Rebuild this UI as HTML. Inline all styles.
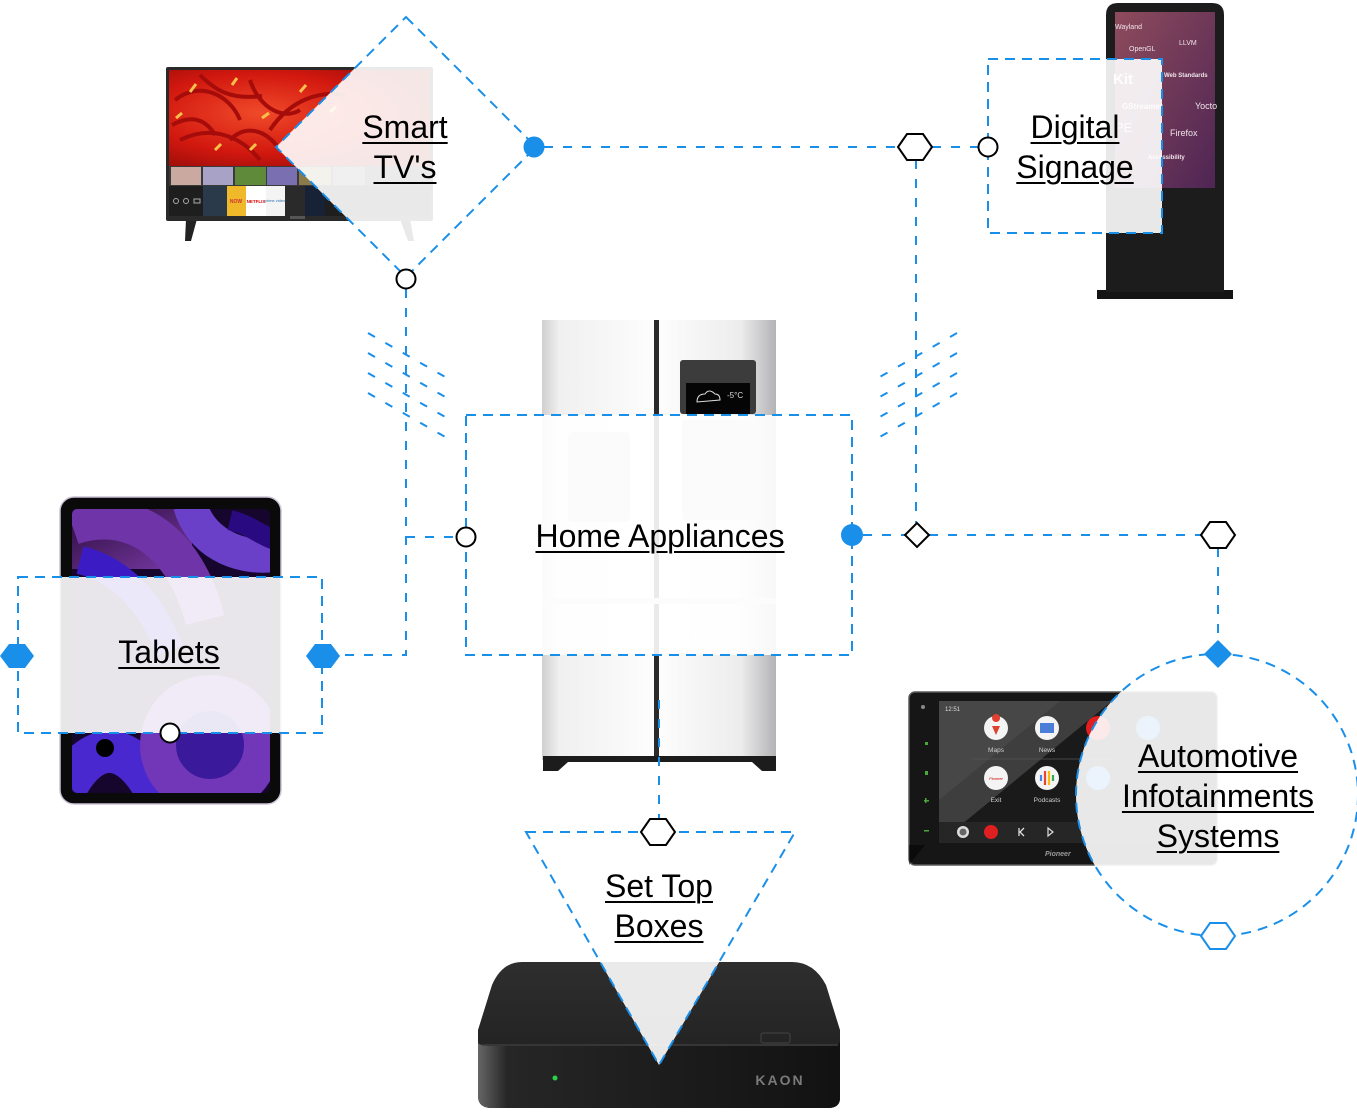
<!DOCTYPE html>
<html><head><meta charset="utf-8">
<style>
html,body{margin:0;padding:0;background:#fff;}
body{width:1357px;height:1117px;position:relative;overflow:hidden;font-family:"Liberation Sans",Arial,sans-serif;}
svg{position:absolute;left:0;top:0;}
.lbl{position:absolute;text-align:center;font-size:32px;line-height:40px;color:#000;text-decoration:underline;text-decoration-thickness:2px;text-underline-offset:4px;white-space:nowrap;}
</style></head><body>
<svg width="1357" height="1117" viewBox="0 0 1357 1117" xmlns="http://www.w3.org/2000/svg">
<defs>
<radialGradient id="tvRed" cx="0.35" cy="0.45" r="0.75">
<stop offset="0" stop-color="#f04a2a"/><stop offset="0.55" stop-color="#d2180f"/><stop offset="1" stop-color="#8a0a08"/>
</radialGradient>
<linearGradient id="sig" x1="0" y1="0" x2="1" y2="1"><stop offset="0" stop-color="#8e4b5c"/><stop offset="1" stop-color="#4e2554"/></linearGradient>
<linearGradient id="fl" x1="0" x2="1"><stop offset="0" stop-color="#cfcfcf"/><stop offset="0.15" stop-color="#f0f0f0"/><stop offset="1" stop-color="#fdfdfd"/></linearGradient>
<linearGradient id="fr" x1="0" x2="1"><stop offset="0" stop-color="#fdfdfd"/><stop offset="0.7" stop-color="#ececec"/><stop offset="1" stop-color="#b3b3b6"/></linearGradient>
<linearGradient id="stbTop" x1="0" y1="0" x2="0" y2="1"><stop offset="0" stop-color="#2e2e2e"/><stop offset="1" stop-color="#1c1c1c"/></linearGradient>
<linearGradient id="stbFront" x1="0" x2="1"><stop offset="0" stop-color="#666"/><stop offset="0.08" stop-color="#262626"/><stop offset="1" stop-color="#121212"/></linearGradient>
<linearGradient id="tabTop" x1="0" y1="0" x2="1" y2="1"><stop offset="0" stop-color="#2a0c3a"/><stop offset="1" stop-color="#7a3aa8"/></linearGradient>
<clipPath id="tabClip"><rect x="72" y="509" width="198" height="284" rx="5"/></clipPath>
<clipPath id="carClip"><rect x="939" y="701" width="262" height="142"/></clipPath>
</defs>

<!-- ===== TV image ===== -->
<g>
<polygon points="186,219 197,219 191,241 185,241" fill="#222"/>
<polygon points="400,219 410,219 414,241 408,241" fill="#222"/>
<rect x="166" y="67" width="267" height="154" rx="2" fill="#2a2a2a"/>
<rect x="169" y="70" width="261" height="96" fill="url(#tvRed)"/>
<path d="M175,100 C200,80 230,95 240,120 M200,75 C215,90 230,100 262,96 M250,80 C260,110 285,120 300,110 M180,140 C210,125 240,135 260,160 M270,130 C290,100 320,90 345,95 M172,125 C190,115 205,118 215,135 M230,140 C245,125 265,128 280,150" stroke="#a50c0a" stroke-width="4" fill="none"/>
<path d="M190,92 l6,-8 M232,85 l5,-7 M300,92 l6,-7 M262,118 l7,-5 M215,150 l6,-6 M330,112 l6,-5 M176,118 l6,-5 M250,150 l6,-6" stroke="#f6c04a" stroke-width="3"/>
<rect x="169" y="166" width="261" height="20" fill="#3a3a3a"/>
<rect x="171" y="167" width="30" height="18" fill="#c9a9a0"/>
<rect x="203" y="167" width="30" height="18" fill="#a8a3c6"/>
<rect x="235" y="167" width="31" height="18" fill="#5f8a3a"/>
<rect x="267" y="167" width="30" height="18" fill="#7a6fb0"/>
<rect x="299" y="167" width="32" height="18" fill="#8b7a4a"/>
<rect x="333" y="167" width="32" height="18" fill="#6a6a6a"/>
<rect x="169" y="186" width="261" height="30" fill="#1e1e1e"/>
<rect x="203" y="186" width="24" height="30" fill="#2b3a4a"/>
<rect x="227" y="186" width="19" height="30" fill="#f0b92a"/>
<rect x="246" y="186" width="20" height="30" fill="#ffffff"/>
<rect x="266" y="186" width="19" height="30" fill="#f4f4f4"/>
<rect x="285" y="186" width="20" height="30" fill="#2a2a2a"/>
<rect x="305" y="186" width="20" height="30" fill="#182236"/>
<text x="236" y="203" font-size="5" fill="#c33" font-weight="bold" text-anchor="middle">NOW</text>
<text x="256" y="203" font-size="4.5" fill="#d00" font-weight="bold" text-anchor="middle">NETFLIX</text>
<text x="275" y="202" font-size="4" fill="#2a6fb0" text-anchor="middle">prime video</text>
<circle cx="176" cy="201" r="2.5" fill="none" stroke="#aaa"/>
<circle cx="186" cy="201" r="2.5" fill="none" stroke="#aaa"/>
<rect x="194" y="199" width="6" height="4" fill="none" stroke="#aaa"/>
<rect x="290" y="216" width="15" height="3" fill="#555"/>
</g>

<!-- ===== Signage ===== -->
<g>
<rect x="1097" y="290" width="136" height="9" fill="#141414"/>
<path d="M1106,15 Q1106,3 1118,3 H1212 Q1224,3 1224,15 V292 H1106 Z" fill="#1c1c1c"/>
<rect x="1115" y="12" width="100" height="176" fill="url(#sig)"/>
<g fill="#f0e4ea" font-family="Liberation Sans, sans-serif">
<text x="1115" y="29" font-size="7">Wayland</text>
<text x="1129" y="51" font-size="7">OpenGL</text>
<text x="1179" y="45" font-size="7">LLVM</text>
<text x="1164" y="77" font-size="6" font-weight="bold">Web Standards</text>
<text x="1113" y="84" font-size="15" font-weight="bold">Kit</text>
<text x="1122" y="109" font-size="8" font-weight="bold">GStreamer</text>
<text x="1195" y="109" font-size="9">Yocto</text>
<text x="1115" y="132" font-size="13">PE</text>
<text x="1170" y="136" font-size="9">Firefox</text>
<text x="1148" y="159" font-size="6" font-weight="bold">Accessibility</text>
</g>
</g>

<!-- ===== Fridge ===== -->
<g>
<rect x="542" y="320" width="114" height="440" fill="url(#fl)"/>
<rect x="659" y="320" width="117" height="440" fill="url(#fr)"/>
<rect x="654" y="320" width="5" height="440" fill="#2a2a2a"/>
<rect x="680" y="360" width="76" height="54" rx="3" fill="#3c3c3c"/>
<rect x="686" y="383" width="64" height="31" fill="#050505"/>
<text x="727" y="398" font-size="8" fill="#ddd">-5°C</text>
<path d="M697,402 q0,-8 8,-8 q4,-6 10,0 q5,0 5,6 z" fill="none" stroke="#ddd" stroke-width="1"/>
<rect x="568" y="432" width="62" height="90" rx="4" fill="#d8d8d8"/>
<rect x="682" y="420" width="74" height="100" rx="4" fill="#cfcfcf"/>
<rect x="542" y="598" width="234" height="6" fill="#dedede"/>
<path d="M543,756 H776 V771 H762 L752,762 H568 L558,771 H543 Z" fill="#1c1c1c"/>
</g>

<!-- ===== Tablet ===== -->
<g>
<rect x="60" y="497" width="221" height="307" rx="14" fill="#0a0a0a" stroke="#cbc3d6" stroke-width="1.5"/>
<g clip-path="url(#tabClip)">
<rect x="72" y="509" width="198" height="284" fill="#16062e"/>
<rect x="72" y="509" width="120" height="60" fill="url(#tabTop)"/>
<path d="M72,525 C130,505 185,540 205,620" stroke="#6e34a8" stroke-width="40" fill="none"/>
<path d="M80,560 C120,570 150,600 170,650" stroke="#3b1cc4" stroke-width="28" fill="none"/>
<path d="M190,505 C200,540 235,560 275,555" stroke="#6a40c8" stroke-width="34" fill="none"/>
<path d="M230,520 C250,525 260,535 275,540" stroke="#2a0a80" stroke-width="20" fill="none"/>
<path d="M65,790 C90,740 130,735 160,800" stroke="#4a28d0" stroke-width="42" fill="none"/>
<circle cx="210" cy="745" r="52" fill="#3a1a9a"/>
<circle cx="210" cy="745" r="52" stroke="#7236b8" stroke-width="36" fill="none"/>
<circle cx="105" cy="748" r="9" fill="#000"/>
</g>
</g>

<!-- ===== Car display ===== -->
<g>
<rect x="909" y="692" width="308" height="173" rx="6" fill="#161616" stroke="#5a5a5a" stroke-width="1.5"/>
<rect x="939" y="701" width="262" height="142" fill="#1a1a1a"/>
<g clip-path="url(#carClip)">
<polygon points="939,701 1112,701 939,843" fill="#3e3e3e"/>
<polygon points="939,701 1060,701 939,800" fill="#474747"/>
<rect x="939" y="822" width="262" height="21" fill="#262626"/>
</g>
<polygon points="909,865 909,845 925,845" fill="#000" opacity="0.5"/>
<circle cx="923" cy="707" r="2" fill="#888"/>
<g fill="#4aa83a"><rect x="925" y="742" width="3" height="3"/><rect x="925" y="771" width="3" height="4"/><rect x="924" y="800" width="5" height="1.5"/><rect x="925" y="798" width="1.5" height="5"/><rect x="924" y="830" width="5" height="1.5"/></g>
<text x="945" y="711" font-size="6" fill="#ddd">12:51</text>
<circle cx="996" cy="728" r="12" fill="#f4f4f4"/>
<path d="M996,722 a4,4 0 1 1 0.1,0 M992,726 L996,735 L1000,726" fill="#e04030"/>
<circle cx="1047" cy="728" r="12" fill="#f4f4f4"/>
<rect x="1040" y="723" width="14" height="10" fill="#4a7ed8"/>
<circle cx="1098" cy="728" r="12" fill="#e02020"/>
<circle cx="1148" cy="728" r="12" fill="#3a8ae0"/>
<circle cx="996" cy="778" r="12" fill="#f4f4f4"/>
<text x="996" y="780" font-size="4" fill="#c00" text-anchor="middle" font-style="italic">Pioneer</text>
<circle cx="1047" cy="778" r="12" fill="#f4f4f4"/>
<g stroke-width="2.2"><line x1="1041" y1="775" x2="1041" y2="781" stroke="#4285f4"/><line x1="1045" y1="771" x2="1045" y2="785" stroke="#ea4335"/><line x1="1049" y1="771" x2="1049" y2="785" stroke="#fbbc05"/><line x1="1053" y1="775" x2="1053" y2="781" stroke="#34a853"/></g>
<circle cx="1098" cy="778" r="12" fill="#3a8ae0"/>
<g fill="#cfcfcf" font-size="6.5" text-anchor="middle">
<text x="996" y="752">Maps</text><text x="1047" y="752">News</text>
<text x="996" y="802">Exit</text><text x="1047" y="802">Podcasts</text>
</g>
<line x1="972" y1="759" x2="1110" y2="759" stroke="#555" stroke-width="0.8"/>
<circle cx="963" cy="832" r="6" fill="#ddd"/><circle cx="963" cy="832" r="3.5" fill="#666"/>
<circle cx="991" cy="832" r="7" fill="#e02020"/>
<path d="M1019,828 v8 M1024,828 l-4,4 l4,4" stroke="#ddd" stroke-width="1.3" fill="none"/>
<path d="M1048,828 l5,4 l-5,4 z" fill="none" stroke="#ddd" stroke-width="1.2"/>
<text x="1045" y="856" font-size="7" fill="#9a9a9a" font-style="italic" font-weight="bold">Pioneer</text>
</g>

<!-- ===== Set top box ===== -->
<g>
<path d="M522,962 H792 Q814,962 826,985 L840,1030 V1098 Q840,1108 828,1108 H492 Q478,1108 478,1096 V1030 L492,985 Q502,962 522,962 Z" fill="url(#stbTop)"/>
<path d="M478,1043 Q480,1046 495,1046 H830 Q840,1046 840,1040 V1098 Q840,1108 828,1108 H492 Q478,1108 478,1096 Z" fill="url(#stbFront)"/>
<line x1="482" y1="1045" x2="838" y2="1045" stroke="#3c3c3c" stroke-width="1.5"/>
<rect x="761" y="1033" width="29" height="10" rx="2" fill="none" stroke="#444"/>
<circle cx="555" cy="1078" r="2.5" fill="#2bd04a"/>
<text x="780" y="1085" font-size="14" font-weight="bold" fill="#7a7a7a" text-anchor="middle" letter-spacing="2">KAON</text>
</g>

<!-- ===== Overlays ===== -->
<g fill="#ffffff" fill-opacity="0.9">
<polygon points="406,17 536,147 406,277 276,147"/>
<rect x="988" y="59" width="174" height="174"/>
<rect x="466" y="415" width="386" height="240"/>
<rect x="18" y="577" width="304" height="156"/>
<circle cx="1217" cy="795" r="141"/>
<polygon points="526,832 795,832 659,1065"/>
</g>

<!-- ===== Shape outlines ===== -->
<g fill="none" stroke="#1a8fea" stroke-width="2" stroke-dasharray="10 7">
<polygon points="406,17 536,147 406,277 276,147"/>
<rect x="988" y="59" width="174" height="174"/>
<rect x="466" y="415" width="386" height="240"/>
<rect x="18" y="577" width="304" height="156"/>
<circle cx="1217" cy="795" r="141"/>
<polygon points="526,832 795,832 659,1065"/>
</g>

<!-- ===== Hatch lines ===== -->
<g stroke="#1a8fea" stroke-width="2" stroke-dasharray="8 12">
<line x1="368" y1="333" x2="447" y2="378"/>
<line x1="368" y1="353" x2="447" y2="398"/>
<line x1="368" y1="373" x2="447" y2="418"/>
<line x1="368" y1="393" x2="447" y2="438"/>
<line x1="957" y1="333" x2="878" y2="378"/>
<line x1="957" y1="353" x2="878" y2="398"/>
<line x1="957" y1="373" x2="878" y2="418"/>
<line x1="957" y1="393" x2="878" y2="438"/>
</g>

<!-- ===== Connectors ===== -->
<g fill="none" stroke="#1a8fea" stroke-width="2" stroke-dasharray="9 10">
<path d="M544,147 H898"/>
<path d="M932,147 H978"/>
<path d="M916,160 V523"/>
<path d="M406,289 V655 H340"/>
<path d="M406,537 H456"/>
<path d="M863,535 H905"/>
<path d="M929,535 H1201"/>
<path d="M1218,548 V641"/>
<path d="M659,700 V819"/>
</g>

<!-- ===== Markers ===== -->
<circle cx="534" cy="147" r="10.5" fill="#1a8fea"/>
<circle cx="406" cy="279" r="9.5" fill="#fff" stroke="#000" stroke-width="2"/>
<polygon points="898,147 907,134 923,134 932,147 923,160 907,160" fill="#fff" stroke="#000" stroke-width="2"/>
<circle cx="988" cy="147" r="9.5" fill="#fff" stroke="#000" stroke-width="2"/>
<circle cx="466" cy="537" r="9.5" fill="#fff" stroke="#000" stroke-width="2"/>
<circle cx="852" cy="535" r="11" fill="#1a8fea"/>
<polygon points="905,535 917,523 929,535 917,547" fill="#fff" stroke="#000" stroke-width="2"/>
<polygon points="1201,535 1210,522 1226,522 1235,535 1226,548 1210,548" fill="#fff" stroke="#000" stroke-width="2"/>
<polygon points="1205,654 1218,641 1231,654 1218,667" fill="#1a8fea" stroke="#1a8fea" stroke-width="1.5" stroke-linejoin="round"/>
<polygon points="1201,936 1210,923 1226,923 1235,936 1226,949 1210,949" fill="#fff" stroke="#1a8fea" stroke-width="2"/>
<polygon points="0,656 9,644 25,644 34,656 25,668 9,668" fill="#1a8fea"/>
<polygon points="306,656 315,644 331,644 340,656 331,668 315,668" fill="#1a8fea"/>
<circle cx="170" cy="733" r="9.5" fill="#fff" stroke="#000" stroke-width="2"/>
<polygon points="641,832 650,819 666,819 675,832 666,845 650,845" fill="#fff" stroke="#000" stroke-width="2"/>
</svg>

<div class="lbl" style="left:305px;top:107px;width:200px;">Smart<br>TV's</div>
<div class="lbl" style="left:975px;top:107px;width:200px;">Digital<br>Signage</div>
<div class="lbl" style="left:510px;top:516px;width:300px;">Home Appliances</div>
<div class="lbl" style="left:69px;top:632px;width:200px;">Tablets</div>
<div class="lbl" style="left:1088px;top:736px;width:260px;">Automotive<br>Infotainments<br>Systems</div>
<div class="lbl" style="left:559px;top:866px;width:200px;">Set Top<br>Boxes</div>
</body></html>
